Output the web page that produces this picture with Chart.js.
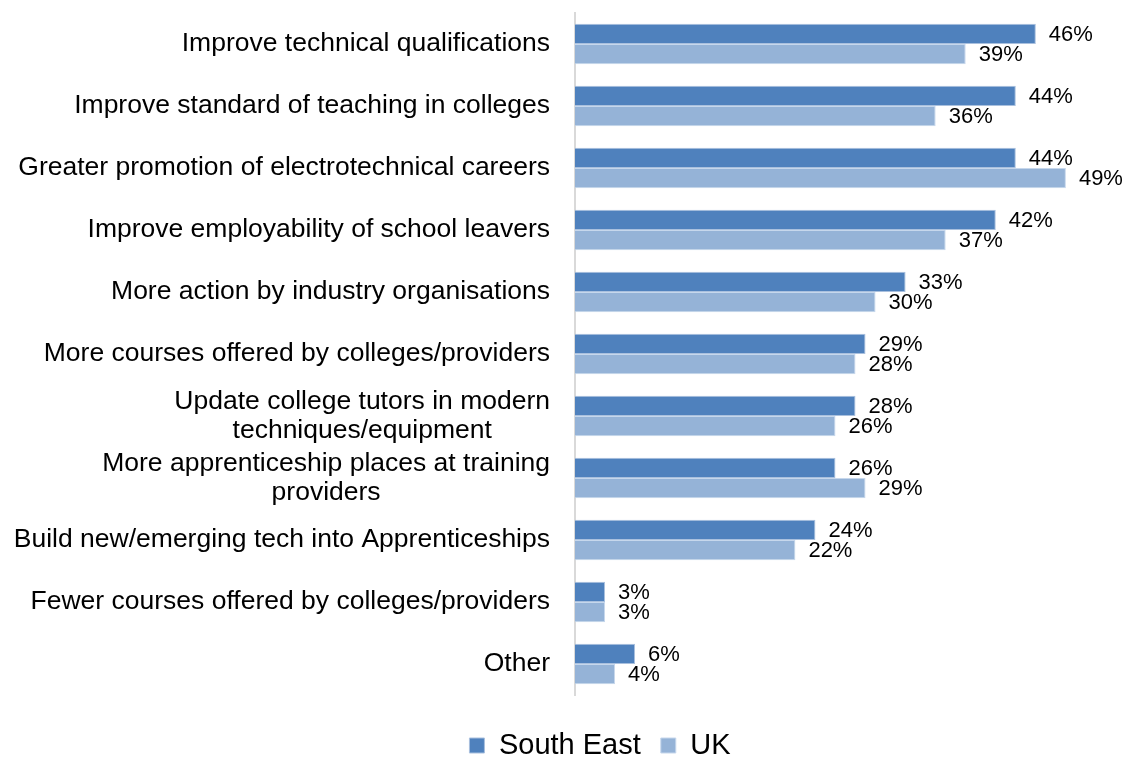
<!DOCTYPE html>
<html>
<head>
<meta charset="utf-8">
<script src="https://cdn.jsdelivr.net/npm/chart.js@4"></script>
<style>
  html, body { margin: 0; padding: 0; background: #fff; }
  #wrap { width: 1129px; height: 758px; }
</style>
</head>
<body>
<div id="wrap"><canvas id="chart"></canvas></div>
<script>
const categories = [
    'Improve technical qualifications',
    'Improve standard of teaching in colleges',
    'Greater promotion of electrotechnical careers',
    'Improve employability of school leavers',
    'More action by industry organisations',
    'More courses offered by colleges/providers',
    ['Update college tutors in modern', 'techniques/equipment'],
    ['More apprenticeship places at training', 'providers'],
    'Build new/emerging tech into Apprenticeships',
    'Fewer courses offered by colleges/providers',
    'Other'
];
const southEast = [46, 44, 44, 42, 33, 29, 28, 26, 24, 3, 6];
const uk = [39, 36, 49, 37, 30, 28, 26, 29, 22, 3, 4];
const seriesNames = ['South East', 'UK'];

const FONT = '"Liberation Sans", Arial, sans-serif';

// category labels (centred lines, right-aligned block) and value labels
const labelPlugin = {
    id: 'labelPlugin',
    afterLayout(chart) {
        // nudge the legend to where the original sits
        const lg = chart.legend;
        lg.top += 16; lg.bottom += 16;
        lg.left += 37; lg.right += 37;
    },
    afterDatasetsDraw(chart) {
        const ctx = chart.ctx;
        const yScale = chart.scales.y;
        const right = yScale.right - 25;
        ctx.save();
        ctx.fillStyle = '#000';
        ctx.textBaseline = 'middle';
        ctx.font = '26.5px ' + FONT;
        ctx.textAlign = 'center';
        categories.forEach((lab, i) => {
            const lines = Array.isArray(lab) ? lab : [lab];
            const w = Math.max(...lines.map(l => ctx.measureText(l).width));
            const cy = yScale.getPixelForValue(i);
            const lh = 29;
            lines.forEach((l, j) => {
                ctx.fillText(l, right - w / 2, cy + (j - (lines.length - 1) / 2) * lh);
            });
        });
        ctx.font = '22px ' + FONT;
        ctx.textAlign = 'left';
        chart.data.datasets.forEach((ds, di) => {
            chart.getDatasetMeta(di).data.forEach((bar, i) => {
                ctx.fillText(ds.data[i] + '%', bar.x + 13, bar.y + 1);
            });
        });
        ctx.restore();
    }
};

const ctx = document.getElementById('chart').getContext('2d');
const chart = new Chart(ctx, {
    type: 'bar',
    data: {
        labels: categories,
        datasets: [{
            label: seriesNames[0],
            data: southEast,
            backgroundColor: '#4F81BD',
            borderColor: '#A9C0DE',
            borderWidth: 1,
            borderSkipped: 'start'
        }, {
            label: seriesNames[1],
            data: uk,
            backgroundColor: '#95B3D7',
            borderColor: '#C6D7EC',
            borderWidth: 1,
            borderSkipped: 'start'
        }]
    },
    options: {
        indexAxis: 'y',
        responsive: true,
        maintainAspectRatio: false,
        animation: false,
        layout: { padding: { top: 13, right: 3, left: 0, bottom: 4 } },
        categoryPercentage: 0.65,
        barPercentage: 1,
        scales: {
            x: {
                min: 0,
                max: 55,
                display: false
            },
            y: {
                grid: { display: false },
                border: { display: true, color: '#D9D9D9', width: 2 },
                ticks: { display: false },
                afterFit(scale) { scale.width = 575; }
            }
        },
        plugins: {
            legend: {
                position: 'bottom',
                labels: {
                    font: { size: 29, family: FONT },
                    color: '#000',
                    boxWidth: 15,
                    boxHeight: 15,
                    padding: 20
                }
            },
            tooltip: { enabled: false }
        }
    },
    plugins: [labelPlugin]
});
</script>
</body>
</html>
